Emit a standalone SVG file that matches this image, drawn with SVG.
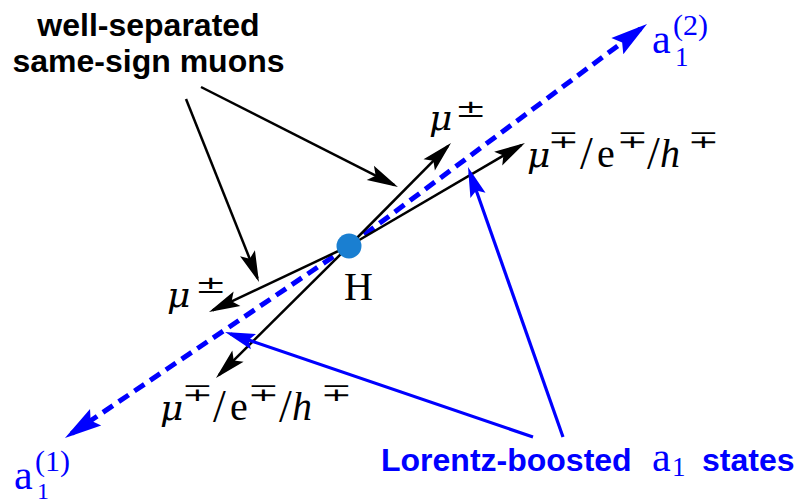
<svg xmlns="http://www.w3.org/2000/svg" width="799" height="499" viewBox="0 0 799 499">
<style>
.bold{font-family:"Liberation Sans",Arial,sans-serif;font-weight:bold;font-size:32px}
.m{font-family:"Liberation Serif","DejaVu Serif",serif;font-size:40px;fill:#000}
.mu{font-family:"DejaVu Serif","Liberation Serif",serif;font-style:italic;font-size:36px}
.sl{font-family:"Liberation Serif","DejaVu Serif",serif;font-size:46px}
.mi{font-style:italic}
.sup{font-family:"DejaVu Serif","Liberation Serif",serif;font-size:25px}
.blk{stroke:#000;stroke-width:2.5;fill:none}
.blu{stroke:#0000ff;stroke-width:3.2;fill:none}
.dash{stroke:#0000ff;stroke-width:5;stroke-dasharray:12 7;fill:none}
.blue{fill:#0000ff}
</style>
<defs>
<marker id="ahK" viewBox="-30 -9 36 18" refX="0" refY="0" markerWidth="36" markerHeight="18" markerUnits="userSpaceOnUse" orient="auto"><path d="M4,0 L-27,-8 L-21,0 L-27,8 Z" fill="#000"/></marker>
<marker id="ahU" viewBox="-26 -9 34 18" refX="0" refY="0" markerWidth="34" markerHeight="18" markerUnits="userSpaceOnUse" orient="auto"><path d="M6,0 L-24,-8 L-19,0 L-24,8 Z" fill="#0000ff"/></marker>
<marker id="ahD" viewBox="-32 -11 42 22" refX="0" refY="0" markerWidth="42" markerHeight="22" markerUnits="userSpaceOnUse" orient="auto"><path d="M8,0 L-29,-10 L-23,0 L-29,10 Z" fill="#0000ff"/></marker>
</defs>
<g id="connectors">
<line class="dash" x1="349" y1="246" x2="640.6" y2="28.8" marker-end="url(#ahD)"/>
<line class="dash" x1="349" y1="246" x2="71.6" y2="433.5" marker-end="url(#ahD)"/>
<line class="blk" x1="349" y1="246" x2="448.2" y2="145.8" marker-end="url(#ahK)"/>
<line class="blk" x1="349" y1="246" x2="521.5" y2="145.0" marker-end="url(#ahK)"/>
<line class="blk" x1="349" y1="246" x2="212.6" y2="310.3" marker-end="url(#ahK)"/>
<line class="blk" x1="349" y1="246" x2="218.8" y2="375.2" marker-end="url(#ahK)"/>
<line class="blk" x1="201" y1="87" x2="394.4" y2="185.2" marker-end="url(#ahK)"/>
<line class="blk" x1="186" y1="99" x2="257.5" y2="278.3" marker-end="url(#ahK)"/>
<line class="blu" x1="563" y1="437" x2="470.0" y2="172.7" marker-end="url(#ahU)"/>
<line class="blu" x1="533" y1="437" x2="230.7" y2="333.9" marker-end="url(#ahU)"/>
</g>
<g id="H">
<circle cx="349" cy="246" r="12.5" fill="#1a7fd1"/>
<text class="m" x="344" y="300">H</text>
</g>
<g id="label-muons">
<text class="bold" x="148.5" y="36" text-anchor="middle">well-separated</text>
<text class="bold" x="148.5" y="72" text-anchor="middle">same-sign muons</text>
</g>
<g id="label-lorentz">
<text class="bold blue" x="381" y="471">Lorentz-boosted</text>
<text class="m blue" x="652" y="471" style="font-size:42px">a</text>
<text class="m blue" x="672" y="476" style="font-size:27px">1</text>
<text class="bold blue" x="702" y="471">states</text>
</g>
<g id="a1-2">
<text class="m blue" x="652" y="53" style="font-size:42px">a</text>
<text class="m blue" x="673" y="35" style="font-size:30px">(2)</text>
<text class="m blue" x="675" y="66" style="font-size:27px">1</text>
</g>
<g id="a1-1">
<text class="m blue" x="14" y="489" style="font-size:42px">a</text>
<text class="m blue" x="35" y="471" style="font-size:30px">(1)</text>
<text class="m blue" x="37" y="499" style="font-size:24px">1</text>
</g>
<g id="mu-up">
<text class="mu" x="429" y="130">μ</text>
<text class="sup" transform="translate(455,117) scale(1.5,1)">±</text>
</g>
<g id="mu-right">
<text class="mu" x="527" y="167">μ</text>
<text class="sup" transform="translate(548,148) scale(1.5,1)">∓</text>
<text class="sl" x="580" y="169">/</text>
<text class="m" x="597" y="167">e</text>
<text class="sup" transform="translate(617,148) scale(1.5,1)">∓</text>
<text class="sl" x="647" y="169">/</text>
<text class="m mi" x="660" y="167">h</text>
<text class="sup" transform="translate(688,148) scale(1.5,1)">∓</text>
</g>
<g id="mu-low">
<text class="mu" x="167" y="307">μ</text>
<text class="sup" transform="translate(195,293) scale(1.5,1)">±</text>
</g>
<g id="mu-bottom">
<text class="mu" x="160" y="420">μ</text>
<text class="sup" transform="translate(182,401) scale(1.5,1)">∓</text>
<text class="sl" x="213" y="422">/</text>
<text class="m" x="230" y="420">e</text>
<text class="sup" transform="translate(248,401) scale(1.5,1)">∓</text>
<text class="sl" x="279" y="422">/</text>
<text class="m mi" x="292" y="420">h</text>
<text class="sup" transform="translate(321,401) scale(1.5,1)">∓</text>
</g>
</svg>
